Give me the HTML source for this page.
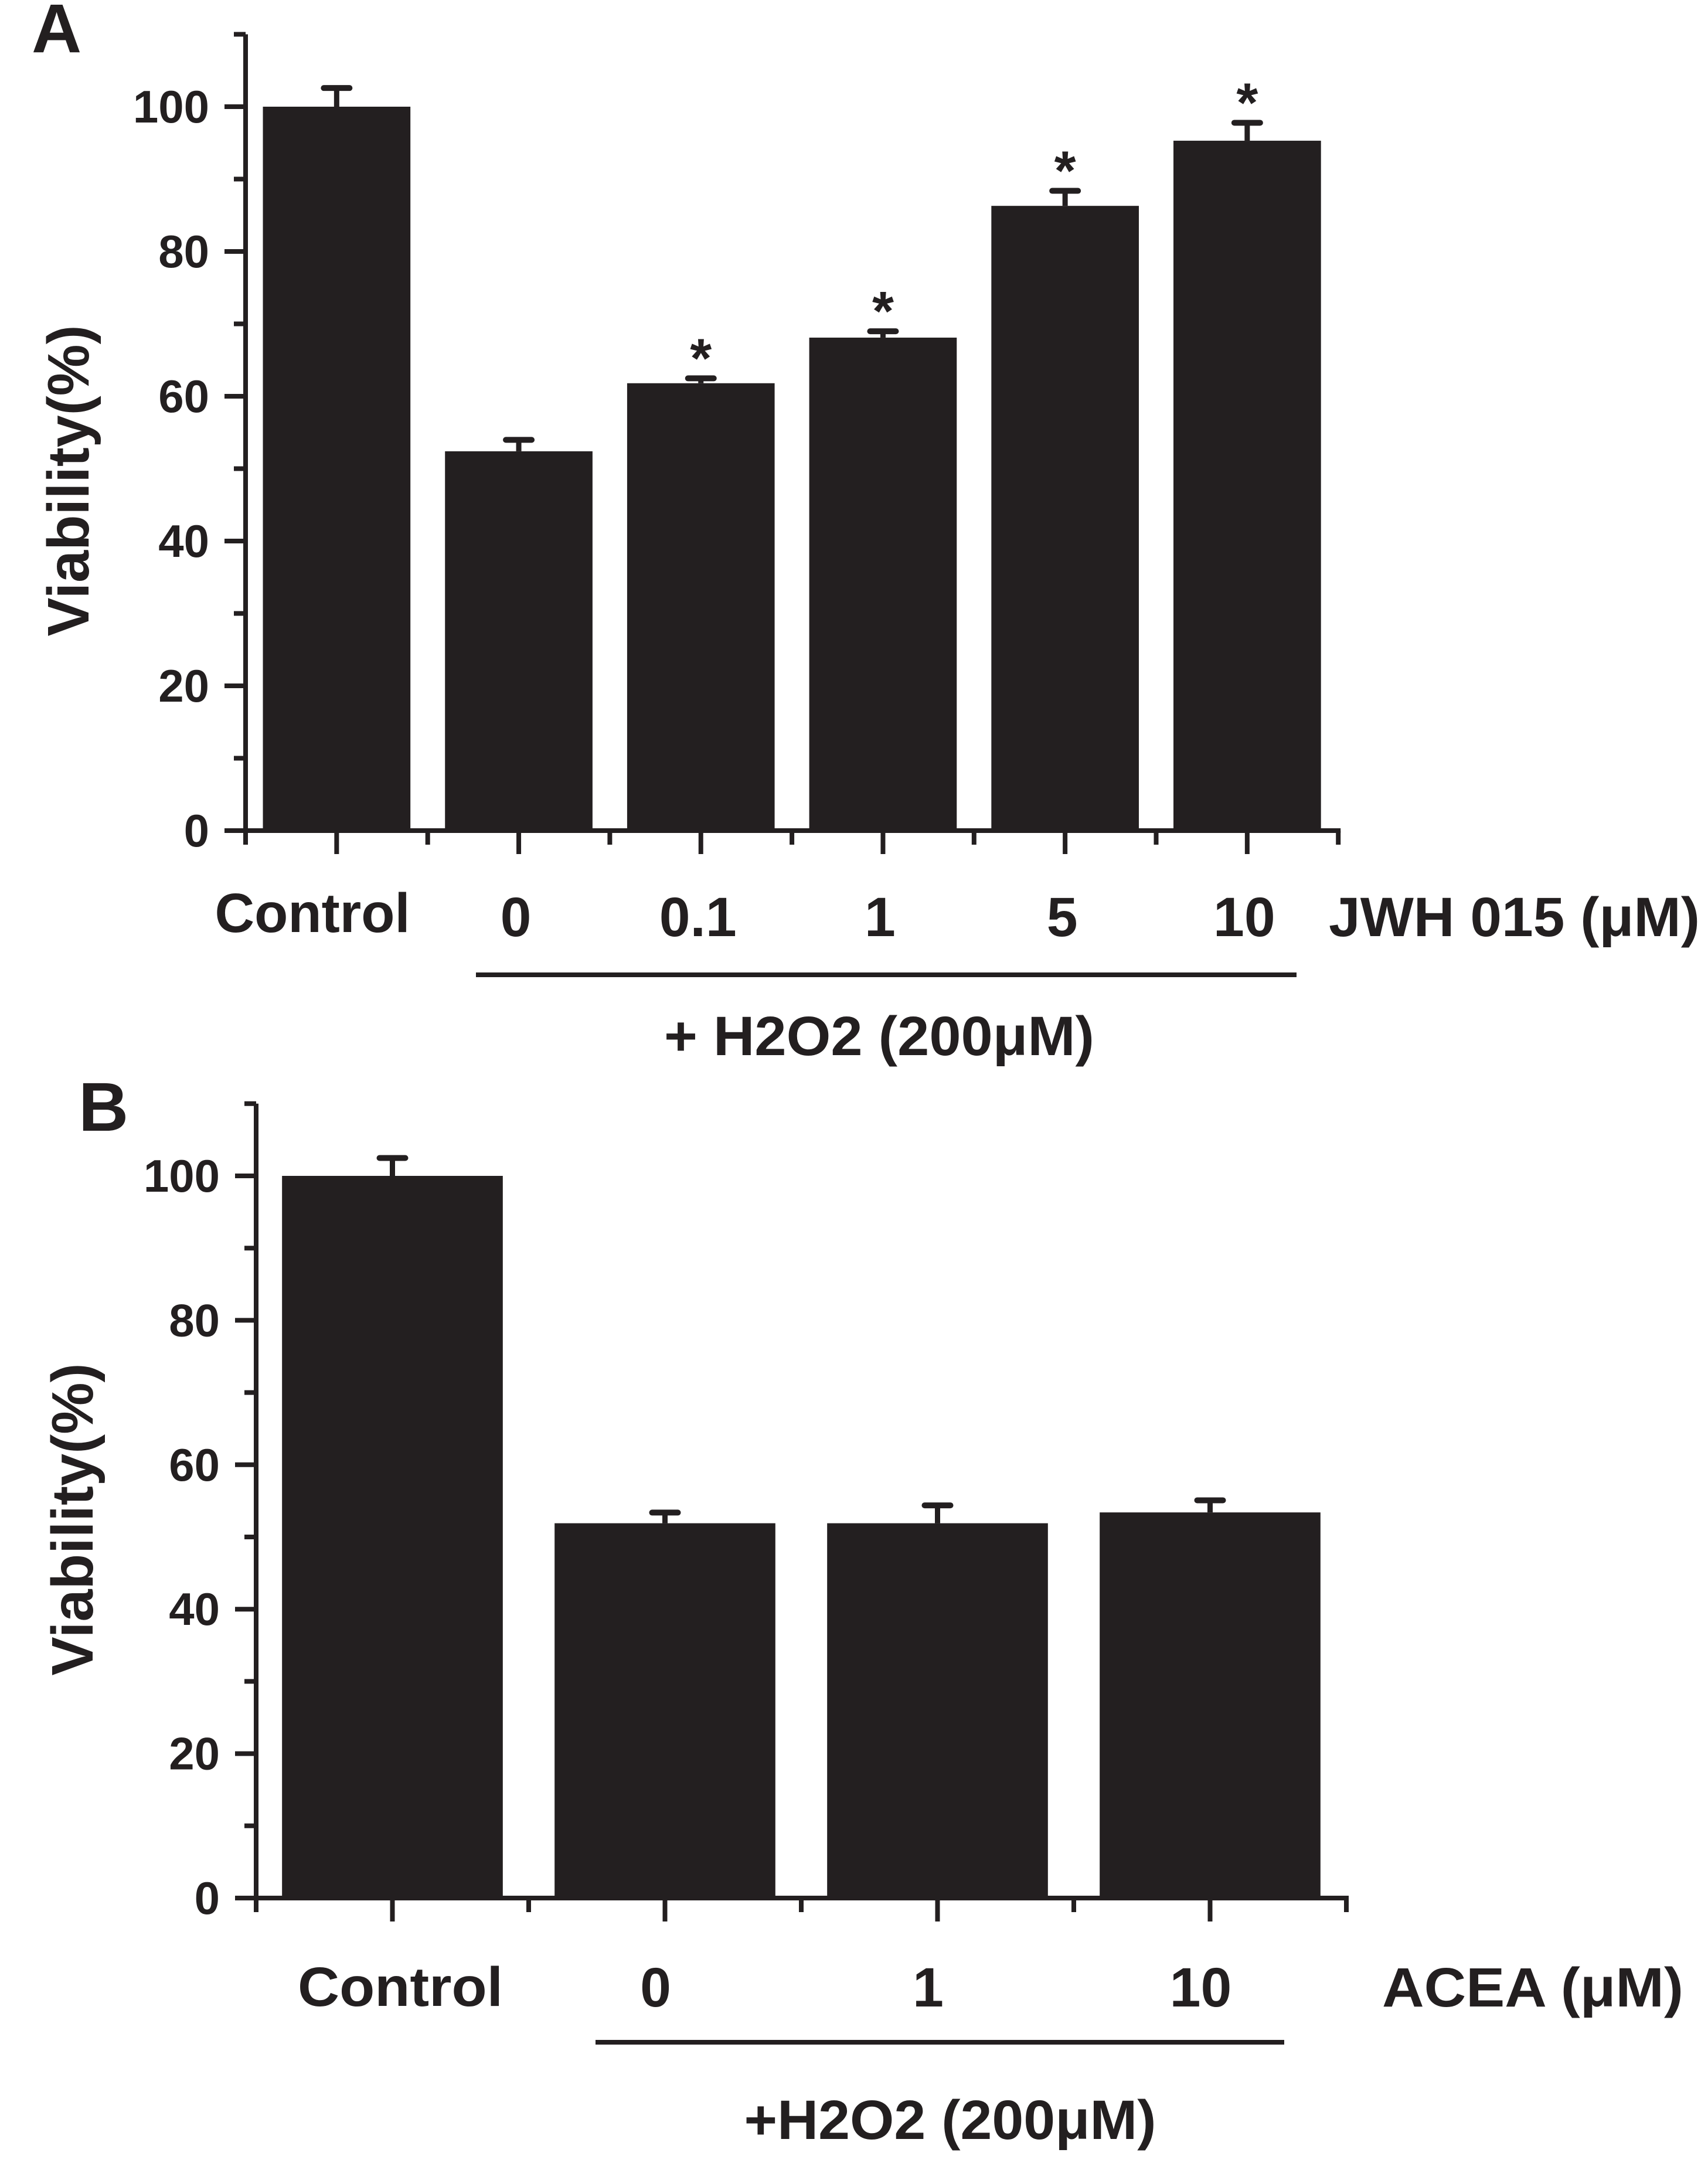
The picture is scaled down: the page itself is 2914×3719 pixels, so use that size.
<!DOCTYPE html>
<html><head><meta charset="utf-8"><style>
html,body{margin:0;padding:0;background:#fff}
svg{display:block}
text{font-family:"Liberation Sans",Arial,sans-serif;font-weight:bold;fill:#231f20}
</style></head><body>
<svg id="fig" width="2914" height="3719" viewBox="0 0 2914 3719" xmlns="http://www.w3.org/2000/svg">
<text x="54" y="89" font-size="118">A</text>
<text x="134" y="1929" font-size="118">B</text>
<text transform="translate(151,820) rotate(-90)" text-anchor="middle" font-size="100" textLength="531" lengthAdjust="spacingAndGlyphs">Viability(%)</text>
<text transform="translate(158,2592) rotate(-90)" text-anchor="middle" font-size="100" textLength="533" lengthAdjust="spacingAndGlyphs">Viability(%)</text>
<text x="533" y="1590" text-anchor="middle" font-size="95" textLength="333" lengthAdjust="spacingAndGlyphs">Control</text>
<text x="2267" y="1597" font-size="95" textLength="633" lengthAdjust="spacingAndGlyphs">JWH 015 (μM)</text>
<rect x="812" y="1659" width="1400" height="8" fill="#231f20"/>
<text x="1500" y="1800" text-anchor="middle" font-size="95" textLength="734" lengthAdjust="spacingAndGlyphs">+ H2O2 (200μM)</text>
<text x="683" y="3422" text-anchor="middle" font-size="95" textLength="350" lengthAdjust="spacingAndGlyphs">Control</text>
<text x="2358" y="3423" font-size="95" textLength="514" lengthAdjust="spacingAndGlyphs">ACEA (μM)</text>
<rect x="1016" y="3480" width="1175" height="8" fill="#231f20"/>
<text x="1621" y="3649" text-anchor="middle" font-size="95" textLength="703" lengthAdjust="spacingAndGlyphs">+H2O2 (200μM)</text>
</svg>
<script>
const catsA = ["Control","0","0.1","1","5","10"];
const valsA = [100,52.4,61.8,68.1,86.3,95.3];
const errA = [102.9,54.3,62.8,69.3,88.7,98.1];
const sigA = [false,false,true,true,true,true];
const catsB = ["Control","0","1","10"];
const valsB = [100,51.9,51.9,53.4];
const errB = [102.8,53.7,54.7,55.4];
const yTicks = [0,20,40,60,80,100];
const yMinor = [10,30,50,70,90,110];

const NS="http://www.w3.org/2000/svg";
const svg=document.getElementById('fig');
const C="#231f20";
function el(tag,attrs){const e=document.createElementNS(NS,tag);for(const k in attrs)e.setAttribute(k,attrs[k]);svg.appendChild(e);return e;}

function panel(p,cats,vals,errs,sig){
  const y=v=>p.y0-(p.y0-p.y100)*v/100;
  const x=i=>p.x0+p.band*(i+0.5);
  const xEnd=p.x0+p.band*cats.length;
  // bars
  cats.forEach((c,i)=>{
    const w=p.band*0.81;
    const r=el('rect',{x:x(i)-w/2,y:y(vals[i]),width:w,height:y(0)-y(vals[i]),fill:C});
    
    
    const s=el('line',{x1:x(i),x2:x(i),y1:y(errs[i]),y2:y(vals[i]),stroke:C,'stroke-width':9});
    
    
    const cp=el('line',{x1:x(i)-22,x2:x(i)+22,y1:y(errs[i])+4,y2:y(errs[i])+4,stroke:C,'stroke-width':10,'stroke-linecap':'round'});
    
    
    if(sig&&sig[i]){
      const t=el('text',{x:x(i),y:y(errs[i])+2,'text-anchor':'middle','font-size':95});
      t.textContent='*';
      
      
    }
    if(i>0){
      const l=el('text',{x:x(i)+p.lblOff,y:p.lblY,'text-anchor':'middle','font-size':95});
      l.textContent=c;
      
      
    }
    const tk=el('line',{x1:x(i),x2:x(i),y1:y(0),y2:y(0)+40,stroke:C,'stroke-width':8});
    
    
  });
  for(let i=0;i<=cats.length;i++){
    const m=el('line',{x1:p.x0+p.band*i,x2:p.x0+p.band*i,y1:y(0),y2:y(0)+24,stroke:C,'stroke-width':8});
    
    
  }
  // axes
  const ya=el('line',{x1:p.x0,x2:p.x0,y1:y(110),y2:y(0)+4,stroke:C,'stroke-width':8});
  
  
  const xa=el('line',{x1:p.x0-36,x2:xEnd+4,y1:y(0),y2:y(0),stroke:C,'stroke-width':8});
  
  
  yTicks.forEach(v=>{
    const t=el('line',{x1:p.x0-36,x2:p.x0,y1:y(v),y2:y(v),stroke:C,'stroke-width':8});
    
    
    const l=el('text',{x:p.x0-62,y:y(v)+27,'text-anchor':'end','font-size':78});
    l.textContent=v;
    
    
  });
  yMinor.forEach(v=>{
    const t=el('line',{x1:p.x0-20,x2:p.x0,y1:y(v),y2:y(v),stroke:C,'stroke-width':8});
    
    
  });
}
panel({id:'a',x0:419,band:310.7,y0:1417,y100:182,lblY:1597,lblOff:-5},catsA,valsA,errA,sigA);
panel({id:'b',x0:437,band:465,y0:3238,y100:2006,lblY:3423,lblOff:-16},catsB,valsB,errB,null);
</script>
</body></html>
